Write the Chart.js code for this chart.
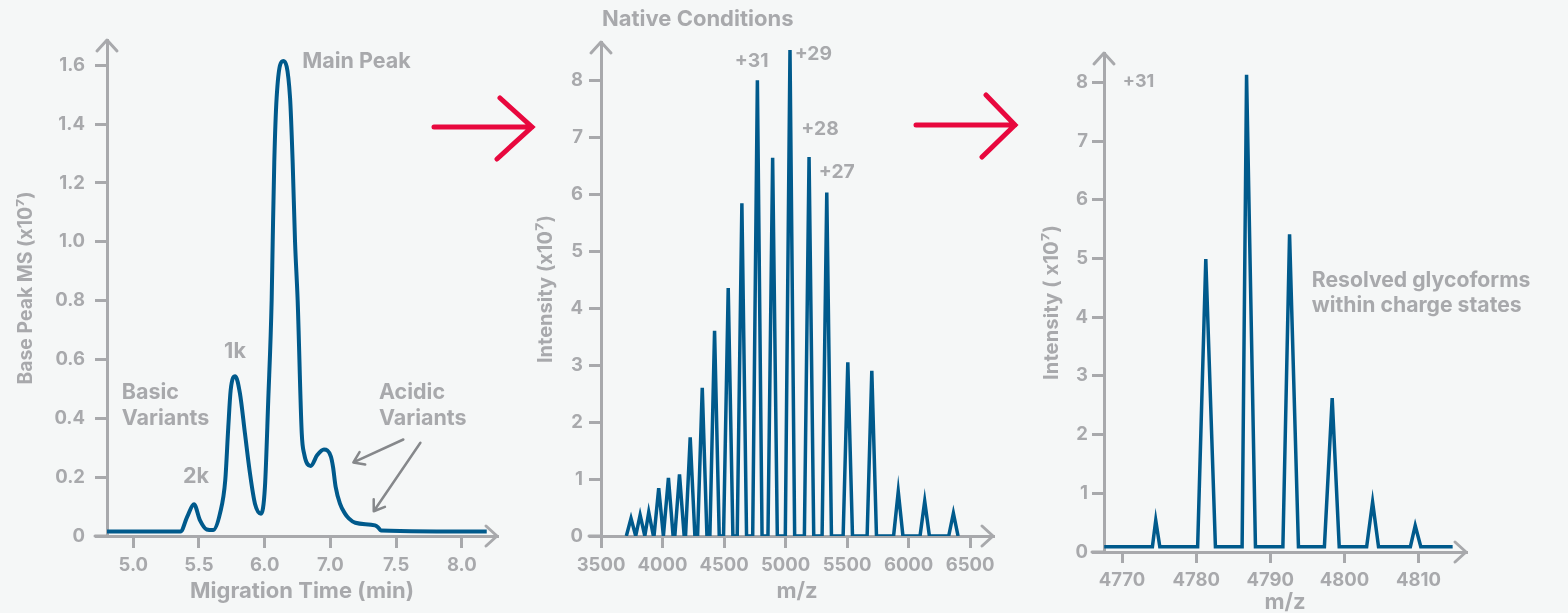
<html>
<head>
<script src="https://cdn.jsdelivr.net/npm/chart.js@4.4.1/dist/chart.umd.min.js"></script>
<style>
  body { margin: 0; background: #f5f7f7; width: 1568px; height: 613px; overflow: hidden; }
  canvas, svg { position: absolute; left: 0; top: 0; }
</style>
</head>
<body>
<canvas id="cTime" width="1568" height="613"></canvas>
<canvas id="cSpec" width="1568" height="613"></canvas>
<canvas id="cZoom" width="1568" height="613"></canvas>
<svg width="1568" height="613">
  <g stroke="#e8083e" stroke-width="5" stroke-linecap="round" fill="none">
    <path d="M434 127 L532 127 M500 98 L532 127 L497 159"/>
    <path d="M916 125 L1015 125 M986 95 L1015 125 L982 157"/>
  </g>
</svg>

<script>
// panel 1: base peak electropherogram (x = position on drawn axis)
var timeX = [4.80, 5.36, 5.41, 5.462, 5.508, 5.559, 5.607, 5.66, 5.70, 5.723, 5.741, 5.776, 5.812, 5.85, 5.888, 5.926, 5.972,
  6.002, 6.027, 6.053, 6.061, 6.073, 6.091, 6.142, 6.193, 6.213, 6.231, 6.251, 6.282, 6.30, 6.35, 6.40, 6.451, 6.504,
  6.52, 6.54, 6.573, 6.61, 6.64, 6.69, 6.84, 6.862, 6.885, 7.69];
var basePeak = [0.015, 0.015, 0.065, 0.108, 0.053, 0.022, 0.02, 0.077, 0.19, 0.37, 0.495, 0.543, 0.484, 0.348, 0.213, 0.11, 0.076,
  0.167, 0.46, 0.80, 1.0, 1.27, 1.49, 1.615, 1.49, 1.27, 1.0, 0.80, 0.35, 0.28, 0.238, 0.275, 0.294, 0.27,
  0.235, 0.167, 0.11, 0.077, 0.06, 0.045, 0.036, 0.03, 0.019, 0.015];
var timeTicks = [5.0, 5.5, 6.0, 6.5, 7.0, 7.5];
var timeTickLabels = ['5.0', '5.5', '6.0', '7.0', '7.5', '8.0'];
var basePeakTicks = [0, 0.2, 0.4, 0.6, 0.8, 1.0, 1.2, 1.4, 1.6];

// panel 2: native MS charge state envelope
var specMz = [3744, 3818, 3888, 3969, 4048, 4138, 4225, 4323, 4423, 4534, 4645, 4771, 4895, 5036, 5191, 5335, 5506, 5701, 5916, 6131, 6364];
var specInt = [0.31, 0.37, 0.42, 0.84, 1.02, 1.08, 1.73, 2.6, 3.6, 4.35, 5.84, 8.0, 6.64, 8.53, 6.65, 6.03, 3.05, 2.9, 0.78, 0.61, 0.40];
var mzTicks = [3500, 4000, 4500, 5000, 5500, 6000, 6500];
var intTicks = [0, 1, 2, 3, 4, 5, 6, 7, 8];

// panel 3: +31 charge state, glycoforms
var zoomMz = [4767.6, 4774.1, 4774.55, 4775.1, 4780.2, 4781.3, 4782.6, 4786.2, 4786.8, 4788.0, 4791.7, 4792.6, 4793.8,
  4797.3, 4798.35, 4799.3, 4803.0, 4803.8, 4804.6, 4808.9, 4809.55, 4810.3, 4814.6];
var zoomInt = [0.09, 0.09, 0.54, 0.09, 0.09, 4.99, 0.09, 0.09, 8.13, 0.09, 0.09, 5.41, 0.09,
  0.09, 2.62, 0.09, 0.09, 0.85, 0.09, 0.09, 0.45, 0.09, 0.09];
var zoomTicks = [4770, 4780, 4790, 4800, 4810];

var GRAY = '#a8a9ac';
var BLUE = '#005a8c';
var FONT = 'Inter, "Open Sans", sans-serif';
var peakHalfWidth = 38;

function pts(xs, ys) {
  return xs.map(function (x, i) { return { x: x, y: ys[i] }; });
}

// each charge state drawn as a narrow spike from the baseline
var specPts = [];
specMz.forEach(function (mz, i) {
  specPts.push({ x: mz - peakHalfWidth, y: 0 });
  specPts.push({ x: mz, y: specInt[i] });
  specPts.push({ x: mz + peakHalfWidth, y: 0 });
});

var notes = {
  id: 'notes',
  afterDraw: function (chart, args, opts) {
    var ctx = chart.ctx, a = chart.chartArea;
    var sx = chart.scales.x, sy = chart.scales.y;
    ctx.save();
    // axis arrow heads
    ctx.strokeStyle = GRAY; ctx.lineWidth = 3; ctx.lineCap = 'round'; ctx.lineJoin = 'round';
    ctx.beginPath();
    ctx.moveTo(a.left - 10, a.top + 11); ctx.lineTo(a.left, a.top); ctx.lineTo(a.left + 10, a.top + 11);
    ctx.moveTo(a.left - 12, a.bottom); ctx.lineTo(a.left, a.bottom);
    ctx.moveTo(a.right - 11, a.bottom - 10); ctx.lineTo(a.right, a.bottom); ctx.lineTo(a.right - 11, a.bottom + 10);
    ctx.stroke();

    (opts.arrows || []).forEach(function (ar) {
      var x0 = sx.getPixelForValue(ar[0]), y0 = sy.getPixelForValue(ar[1]);
      var x1 = sx.getPixelForValue(ar[2]), y1 = sy.getPixelForValue(ar[3]);
      var ang = Math.atan2(y1 - y0, x1 - x0);
      ctx.strokeStyle = '#86888b'; ctx.lineWidth = 2.5;
      ctx.beginPath();
      ctx.moveTo(x0, y0); ctx.lineTo(x1, y1);
      ctx.moveTo(x1 - 12 * Math.cos(ang - 0.6), y1 - 12 * Math.sin(ang - 0.6));
      ctx.lineTo(x1, y1);
      ctx.lineTo(x1 - 12 * Math.cos(ang + 0.6), y1 - 12 * Math.sin(ang + 0.6));
      ctx.stroke();
    });

    ctx.fillStyle = GRAY;
    ctx.textBaseline = 'middle';
    (opts.items || []).forEach(function (t) {
      ctx.font = '700 ' + (t.size || 21.5) + 'px ' + FONT;
      ctx.textAlign = t.align || 'center';
      ctx.fillText(t.text, sx.getPixelForValue(t.x), sy.getPixelForValue(t.y));
    });
    ctx.restore();
  }
};

function axis(opt) {
  return {
    type: 'linear',
    min: opt.min, max: opt.max,
    afterBuildTicks: function (sc) { sc.ticks = opt.ticks.map(function (v) { return { value: v }; }); },
    afterFit: function (sc) { if (sc.isHorizontal()) sc.height = opt.size; else sc.width = opt.size; },
    border: { display: true, color: GRAY, width: 3 },
    grid: { display: true, drawOnChartArea: false, drawTicks: true, tickLength: opt.tickLength || 12, lineWidth: 3, color: GRAY },
    ticks: {
      color: GRAY, padding: opt.pad, maxRotation: 0, autoSkip: false,
      font: { family: FONT, size: 18.5, weight: '700' },
      callback: opt.labels
    },
    title: {
      display: true, text: opt.title, color: GRAY,
      font: { family: FONT, size: opt.titleSize || 22, weight: '700', lineHeight: opt.titleLH || 1.2 },
      padding: opt.titlePad
    }
  };
}

function lineChart(id, data, pad, xs, ys, curved, width, noteOpts) {
  return new Chart(document.getElementById(id), {
    type: 'line',
    data: {
      datasets: [{
        data: data,
        borderColor: BLUE,
        borderWidth: width,
        pointRadius: 0,
        fill: false,
        tension: curved ? 0.4 : 0,
        cubicInterpolationMode: curved ? 'monotone' : 'default'
      }]
    },
    options: {
      responsive: false,
      animation: false,
      layout: { padding: pad },
      scales: { x: xs, y: ys },
      plugins: { legend: { display: false }, tooltip: { enabled: false }, notes: noteOpts }
    },
    plugins: [notes]
  });
}

lineChart('cTime', pts(timeX, basePeak),
  { left: 0, top: 40, right: 1568 - 497, bottom: 0 },
  axis({ min: 4.8, max: 7.768, ticks: timeTicks, size: 77, pad: 6,
    labels: function (v) { return timeTickLabels[timeTicks.indexOf(v)]; },
    title: 'Migration Time (min)', titlePad: { bottom: 8 } }),
  axis({ min: 0, max: 1.686, ticks: basePeakTicks, size: 107, pad: 10,
    labels: function (v) { return v === 0 ? '0' : v.toFixed(1); },
    title: 'Base Peak MS (x10\u2077)', titleSize: 19.4, titlePad: { top: 15 } }),
  true, 4,
  {
    items: [
      { text: 'Main Peak', x: 6.286, y: 1.612, align: 'left' },
      { text: '1k', x: 5.774, y: 0.626 },
      { text: '2k', x: 5.477, y: 0.203 },
      { text: 'Basic', x: 4.912, y: 0.486, align: 'left' },
      { text: 'Variants', x: 4.912, y: 0.399, align: 'left' },
      { text: 'Acidic', x: 6.87, y: 0.486, align: 'left' },
      { text: 'Variants', x: 6.87, y: 0.399, align: 'left' }
    ],
    arrows: [[7.055, 0.328, 6.675, 0.250], [7.185, 0.317, 6.83, 0.084]]
  });

lineChart('cSpec', specPts,
  { left: 500, top: 42, right: 1568 - 993, bottom: 0 },
  axis({ min: 3500, max: 6686, ticks: mzTicks, size: 77, pad: 6,
    labels: function (v) { return String(v); },
    title: 'm/z', titlePad: { bottom: 8 } }),
  axis({ min: 0, max: 8.67, ticks: intTicks, size: 101, pad: 6,
    labels: function (v) { return String(v); },
    title: 'Intensity (x10\u2077)', titleSize: 20, titlePad: { top: 34 } }),
  false, 3.5,
  {
    items: [
      { text: 'Native Conditions', x: 3508, y: 9.065, align: 'left', size: 22 },
      { text: '+31', x: 4725, y: 8.33, size: 19.3 },
      { text: '+29', x: 5226, y: 8.45, size: 19.3 },
      { text: '+28', x: 5280, y: 7.135, size: 19.3 },
      { text: '+27', x: 5416, y: 6.39, size: 19.3 }
    ]
  });

lineChart('cZoom', pts(zoomMz, zoomInt),
  { left: 1000, top: 53, right: 1568 - 1466, bottom: 0 },
  axis({ min: 4767.57, max: 4816.4, ticks: zoomTicks, size: 613 - 552, pad: 6, tickLength: 11,
    labels: function (v) { return String(v); },
    title: 'm/z', titlePad: { bottom: 0 }, titleLH: 1 }),
  axis({ min: 0, max: 8.5, ticks: intTicks, size: 104, pad: 4,
    labels: function (v) { return String(v); },
    title: 'Intensity ( x10\u2077)', titleSize: 20.3, titlePad: { top: 39.5 } }),
  false, 3.5,
  {
    items: [
      { text: '+31', x: 4770.1, y: 8.02, align: 'left', size: 18 },
      { text: 'Resolved glycoforms', x: 4795.6, y: 4.62, align: 'left', size: 21.2 },
      { text: 'within charge states', x: 4795.6, y: 4.19, align: 'left', size: 21.2 }
    ]
  });
</script>
</body>
</html>
